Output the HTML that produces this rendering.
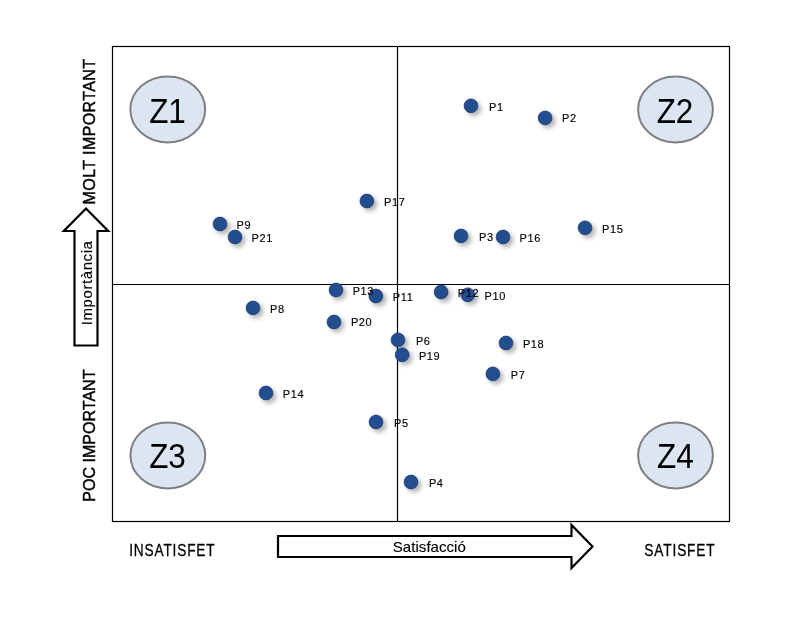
<!DOCTYPE html>
<html><head><meta charset="utf-8">
<style>
html,body{margin:0;padding:0;background:#fff;}
body{width:800px;height:622px;overflow:hidden;position:relative;font-family:"Liberation Sans",sans-serif;}
svg{position:absolute;left:0;top:0;will-change:transform;}
</style></head>
<body>
<svg width="800" height="622" viewBox="0 0 800 622">
<defs>
<filter id="sh" x="-60%" y="-60%" width="240%" height="240%">
<feGaussianBlur in="SourceAlpha" stdDeviation="2.8"/>
<feOffset dx="3" dy="3" result="b"/>
<feComponentTransfer><feFuncA type="linear" slope="0.32"/></feComponentTransfer>
<feMerge><feMergeNode/><feMergeNode in="SourceGraphic"/></feMerge>
</filter>
</defs>
<rect x="112.5" y="46.5" width="617" height="475" fill="none" stroke="#000" stroke-width="1.2"/>
<line x1="397.5" y1="46" x2="397.5" y2="522" stroke="#000" stroke-width="1.2"/>
<line x1="112" y1="284.5" x2="730" y2="284.5" stroke="#000" stroke-width="1.2"/>
<g fill="#dce6f2" stroke="#7f7f7f" stroke-width="2">
<ellipse cx="167.75" cy="109.4" rx="37.4" ry="33.0"/>
<ellipse cx="675.5" cy="109.5" rx="37.4" ry="33.0"/>
<ellipse cx="167.85" cy="455.4" rx="37.4" ry="33.0"/>
<ellipse cx="675.5" cy="455.4" rx="37.4" ry="33.0"/>
</g>
<g font-family="Liberation Sans" font-size="34.4" fill="#000" text-anchor="middle">
<text x="167.5" y="122.5" textLength="36.7" lengthAdjust="spacingAndGlyphs">Z1</text>
<text x="675" y="122.5" textLength="36.7" lengthAdjust="spacingAndGlyphs">Z2</text>
<text x="167.5" y="468.4" textLength="36.7" lengthAdjust="spacingAndGlyphs">Z3</text>
<text x="675.3" y="468.4" textLength="36.7" lengthAdjust="spacingAndGlyphs">Z4</text>
</g>
<path d="M74.5,345.5 L74.5,231 L63.8,231 L86,208.6 L108.2,231 L97.5,231 L97.5,345.5 Z" fill="#fff" stroke="#000" stroke-width="2.2" stroke-linejoin="miter"/>
<path d="M278,536 L571.5,536 L571.5,525 L592.5,546.5 L571.5,568 L571.5,557 L278,557 Z" fill="#fff" stroke="#000" stroke-width="2.2" stroke-linejoin="miter"/>
<g font-family="Liberation Sans" fill="#000" stroke="#000" stroke-width="0.45">
<text x="0" y="0" font-size="16" textLength="145.5" transform="translate(95,204.4) rotate(-90)">MOLT IMPORTANT</text>
<text x="0" y="0" font-size="16" textLength="132.3" transform="translate(95,501.8) rotate(-90)">POC IMPORTANT</text>
<text x="0" y="0" font-size="15" stroke-width="0.15" textLength="84.1" transform="translate(92,325.2) rotate(-90)">Importància</text>
<text x="0" y="0" font-size="16.5" stroke-width="0.3" textLength="103" transform="translate(129.2,556) scale(0.83,1)">INSATISFET</text>
<text x="0" y="0" font-size="16.5" stroke-width="0.3" textLength="84.8" transform="translate(644.3,556) scale(0.83,1)">SATISFET</text>
<text x="392.8" y="552" font-size="15" stroke-width="0.15" textLength="73">Satisfacció</text>
</g>
<g fill="#234d8e" stroke="#1a3a6e" stroke-width="0.8" filter="url(#sh)">
<circle cx="471" cy="105.8" r="6.9"/>
<circle cx="545.1" cy="117.9" r="6.9"/>
<circle cx="366.9" cy="201" r="6.9"/>
<circle cx="220" cy="224" r="6.9"/>
<circle cx="235" cy="237" r="6.9"/>
<circle cx="461" cy="235.9" r="6.9"/>
<circle cx="503" cy="237" r="6.9"/>
<circle cx="585" cy="227.8" r="6.9"/>
<circle cx="336" cy="290" r="6.9"/>
<circle cx="375.9" cy="296" r="6.9"/>
<circle cx="441.1" cy="292" r="6.9"/>
<circle cx="467.7" cy="294.8" r="6.9"/>
<circle cx="253" cy="307.9" r="6.9"/>
<circle cx="334" cy="322" r="6.9"/>
<circle cx="398" cy="339.9" r="6.9"/>
<circle cx="402.2" cy="354.8" r="6.9"/>
<circle cx="506" cy="343" r="6.9"/>
<circle cx="492.9" cy="373.9" r="6.9"/>
<circle cx="266" cy="393" r="6.9"/>
<circle cx="376" cy="422" r="6.9"/>
<circle cx="411" cy="482" r="6.9"/>
</g>
<g font-family="Liberation Sans" font-size="11" fill="#000" letter-spacing="0.6" stroke="#000" stroke-width="0.15">
<text x="489" y="111">P1</text>
<text x="562" y="122">P2</text>
<text x="384" y="206">P17</text>
<text x="236.5" y="228.5">P9</text>
<text x="251.5" y="241.6">P21</text>
<text x="479" y="241">P3</text>
<text x="519.6" y="242">P16</text>
<text x="602" y="232.7">P15</text>
<text x="352.7" y="295">P13</text>
<text x="392.8" y="301">P11</text>
<text x="457.8" y="297">P12</text>
<text x="484.6" y="300">P10</text>
<text x="270.1" y="313">P8</text>
<text x="350.9" y="326">P20</text>
<text x="415.9" y="344.7">P6</text>
<text x="418.9" y="359.7">P19</text>
<text x="522.9" y="348">P18</text>
<text x="510.8" y="378.8">P7</text>
<text x="282.8" y="398">P14</text>
<text x="394.1" y="426.7">P5</text>
<text x="428.9" y="486.7">P4</text>
</g>
</svg>
</body></html>
